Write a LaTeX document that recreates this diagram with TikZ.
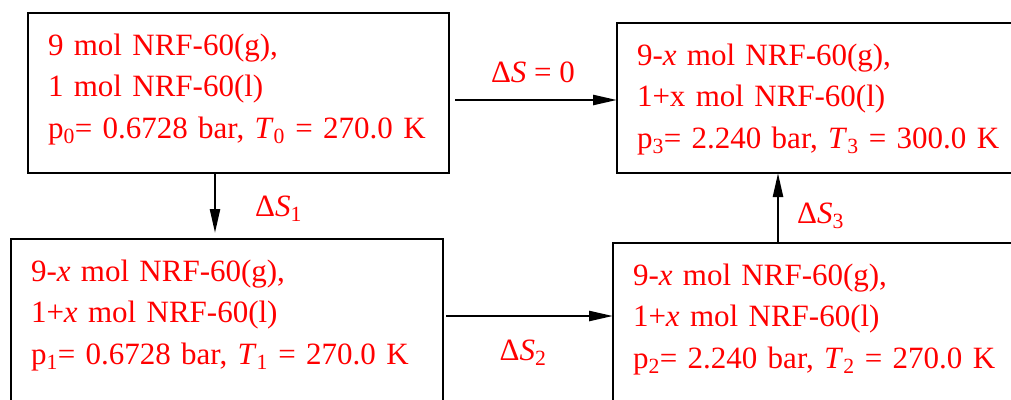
\documentclass[tikz,border=0pt]{standalone}
\usepackage{fontspec}
\setmainfont{Liberation Serif}
\usetikzlibrary{arrows.meta}

\begin{document}
\begin{tikzpicture}[x=1pt,y=-1pt,
  state/.style={draw,line width=2.4pt,anchor=north west,align=left,
    inner xsep=20pt,inner ysep=0pt,outer sep=0pt,text height=42pt,
    text=red,font=\fontsize{31}{41.5}\selectfont},
  flow/.style={line width=2.4pt,-{Triangle[length=24pt,width=10pt]}},
  dlabel/.style={text=red,inner sep=0pt,font=\fontsize{31}{36}\selectfont}]
\useasboundingbox (0,0) rectangle (1011,399);
\clip (0,0) rectangle (1011,399);

% States
\node[state,text width=381pt,text depth=118pt] (s0) at (28,13)
  {9 mol NRF-60(g),\\ 1 mol NRF-60(l)\\ p\textsubscript{0}= 0.6728 bar, \textit{T}\textsubscript{0} = 270.0 K};
\node[state,text width=400pt,text depth=108pt] (s3) at (617,23)
  {9-\textit{x} mol NRF-60(g),\\ 1+x mol NRF-60(l)\\ p\textsubscript{3}= 2.240 bar, \textit{T}\textsubscript{3} = 300.0 K};
\node[state,text width=392pt,text depth=200pt] (s1) at (11,239)
  {9-\textit{x} mol NRF-60(g),\\ 1+\textit{x} mol NRF-60(l)\\ p\textsubscript{1}= 0.6728 bar, \textit{T}\textsubscript{1} = 270.0 K};
\node[state,text width=400pt,text depth=200pt] (s2) at (613,243)
  {9-\textit{x} mol NRF-60(g),\\ 1+\textit{x} mol NRF-60(l)\\ p\textsubscript{2}= 2.240 bar, \textit{T}\textsubscript{2} = 270.0 K};

% Rows and columns of the paths
\coordinate (row1) at (0,100);
\coordinate (row2) at (0,316);
\coordinate (col1) at (215,0);
\coordinate (col2) at (778,0);

% Paths
\draw[flow,shorten <=6pt] (s0.east |- row1) -- (s3.west |- row1);
\draw[flow,shorten >=6pt] (s0.south -| col1) -- (s1.north -| col1);
\draw[flow,shorten <=3pt] (s1.east |- row2) -- (s2.west |- row2);
\draw[flow] (s2.north -| col2) -- (s3.south -| col2);

% Entropy changes
\node[dlabel,anchor=base] (dS) at (533,82) {Δ\textit{S} = 0};
\node[dlabel,anchor=base west] (dS1) at (255,216) {Δ\textit{S}\textsubscript{1}};
\node[dlabel,anchor=base] (dS2) at (523,360) {Δ\textit{S}\textsubscript{2}};
\node[dlabel,anchor=base west] (dS3) at (797,223) {Δ\textit{S}\textsubscript{3}};
\end{tikzpicture}
\end{document}
